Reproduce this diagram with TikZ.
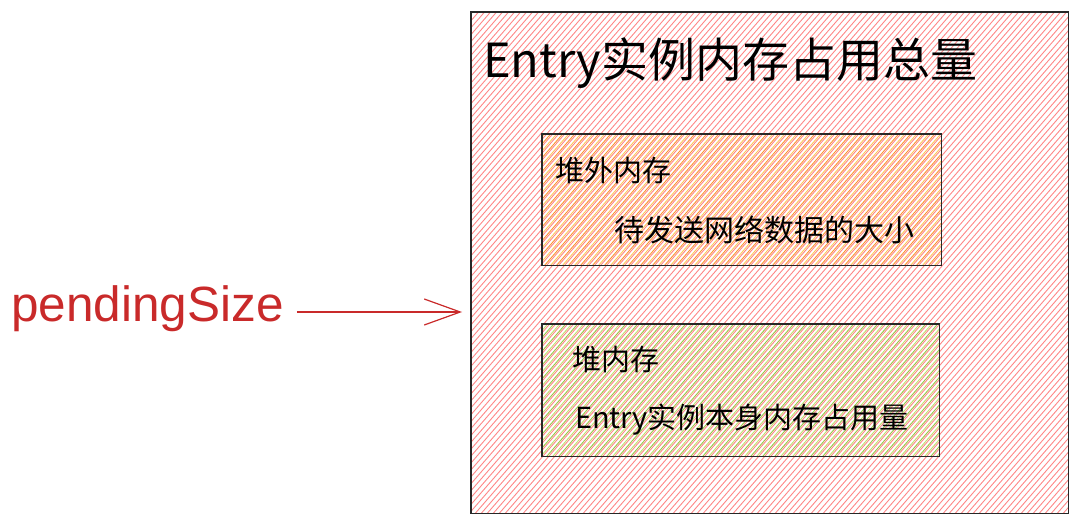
\documentclass[tikz,border=0pt]{standalone}
\usepackage{fontspec}
\setmainfont{Liberation Sans}
\newfontfamily\cjk{Noto Sans CJK SC}
\usepackage{tikz}
\usetikzlibrary{arrows.meta}

\definecolor{boxline}{RGB}{40,40,40}
\definecolor{hachpink}{RGB}{255,135,135}
\definecolor{hachorange}{RGB}{250,150,50}
\definecolor{hachyellow}{RGB}{252,200,90}
\definecolor{hachgreen}{RGB}{150,200,70}
\definecolor{hachlime}{RGB}{190,225,110}
\definecolor{labelred}{RGB}{201,42,42}

\tikzset{
  frame/.style={inner sep=0pt, anchor=north west},
  hach/.style={line width=0.9pt},
  boxtext/.style={inner sep=0pt, text=black, font=\cjk\fontsize{#1}{#1}\selectfont},
}

\begin{document}
\begin{tikzpicture}[x=1pt,y=-1pt]

\useasboundingbox (0,0) rectangle (1080,524);

\node[frame, minimum width=597pt, minimum height=501pt] (total) at (471,12) {};
\node[frame, minimum width=399pt, minimum height=131pt] (offheap) at (542,134) {};
\node[frame, minimum width=397pt, minimum height=132pt] (heap) at (542,324) {};

\begin{scope}
\clip (total.north west) rectangle (total.south east);
\foreach \x in {10,16,...,1075}
\draw[hach, hachpink] (\x,524) -- ++(455,-524);
\end{scope}

\begin{scope}
\clip (offheap.north west) rectangle (offheap.south east);
\foreach \x in {92,104,...,945}
\draw[hach, hachorange] (\x,524) -- ++(455,-524);
\foreach \x in {98,110,...,945}
\draw[hach, hachyellow] (\x,524) -- ++(455,-524);
\end{scope}

\begin{scope}
\clip (heap.north west) rectangle (heap.south east);
\foreach \x in {92,104,...,945}
\draw[hach, hachgreen] (\x,524) -- ++(455,-524);
\foreach \x in {98,110,...,945}
\draw[hach, hachlime] (\x,524) -- ++(455,-524);
\end{scope}

\draw[boxline, line width=1.6pt] (total.north west) rectangle (total.south east);
\draw[boxline, line width=1.6pt] (offheap.north west) rectangle (offheap.south east);
\draw[boxline, line width=1.6pt] (heap.north west) rectangle (heap.south east);

\node[boxtext=47, anchor=west] (title) at (483,63) {Entry实例内存占用总量};
\node[boxtext=29, anchor=west] (offname) at (555,170) {堆外内存};
\node[boxtext=30] (offdesc) at (764,230) {待发送网络数据的大小};
\node[boxtext=29, anchor=west] (heapname) at (572,360) {堆内存};
\node[boxtext=29] (heapdesc) at (742,420) {Entry实例本身内存占用量};

\node[inner sep=0pt, anchor=base west, text=labelred, font=\fontsize{49.5}{49.5}\selectfont] (pending) at (11,321) {pendingSize};

\coordinate (tip) at (462,312);
\draw[labelred, line width=1.2pt, -{Straight Barb[length=36pt, width=26pt]}] ([xshift=13pt]pending.east |- tip) -- (tip);

\end{tikzpicture}
\end{document}
